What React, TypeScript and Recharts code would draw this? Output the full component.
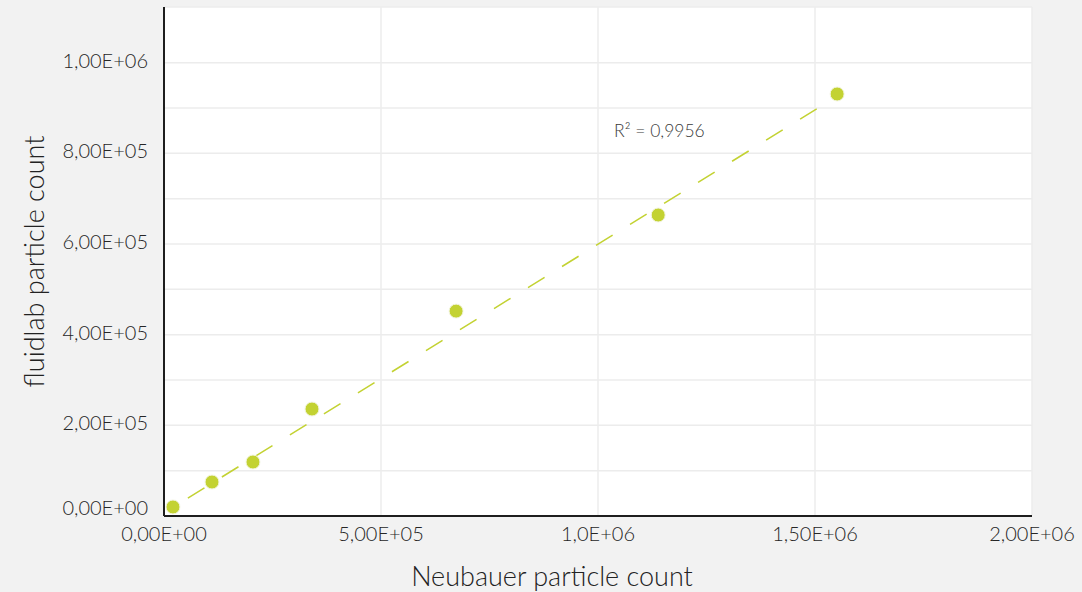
import React from "react";
import {
  ScatterChart,
  Scatter,
  XAxis,
  YAxis,
  CartesianGrid,
  ReferenceLine,
  ReferenceDot,
  Label,
} from "recharts";

const neubauer = [20700, 110600, 205000, 341000, 673000, 1138700, 1551000];
const fluidlab = [19900, 75000, 119100, 236000, 452000, 664000, 931000];

const xTicks = [0, 500000, 1000000, 1500000, 2000000];
const xTickLabels = ["0,00E+00", "5,00E+05", "1,0E+06", "1,50E+06", "2,00E+06"];

const yTicks = [0, 100000, 200000, 300000, 400000, 500000, 600000, 700000, 800000, 900000, 1000000];
const yTickLabels = ["0,00E+00", "", "2,00E+05", "", "4,00E+05", "", "6,00E+05", "", "8,00E+05", "", "1,00E+06"];

const trendStart = { x: 55000, y: 39600 };
const trendEnd = { x: 1551000, y: 926000 };
const r2Label = "R² = 0,9956";
const r2Pos = { x: 1037000, y: 849000 };

const data = neubauer.map((x, i) => ({ x, y: fluidlab[i] }));

const FONT = "Lato, 'Open Sans', sans-serif";
const GREEN = "#c3d232";

const XTick = (props: any) => {
  const { x, y, payload } = props;
  const i = xTicks.indexOf(payload.value);
  return (
    <text x={x} y={y + 3} dy="0.71em" textAnchor="middle" fontFamily={FONT} fontWeight={300} fontSize={20} fill="#262626">
      {xTickLabels[i]}
    </text>
  );
};

const YTick = (props: any) => {
  const { x, y, payload } = props;
  const i = yTicks.indexOf(payload.value);
  const label = yTickLabels[i];
  if (!label) return <g />;
  return (
    <text x={x - 8} y={payload.value === 0 ? y - 8 : y - 2} dy="0.35em" textAnchor="end" fontFamily={FONT} fontWeight={300} fontSize={20} fill="#262626">
      {label}
    </text>
  );
};

const Dot = (props: any) => {
  const { cx, cy } = props;
  return <circle cx={cx} cy={cy} r={7} fill={GREEN} stroke="#f4f6e4" strokeWidth={1} />;
};

export default function App() {
  return (
    <div style={{ position: "absolute", left: 0, top: 0, width: 1082, height: 592, background: "#f2f2f2", overflow: "hidden" }}>
      <ScatterChart width={1082} height={592} margin={{ top: 7, right: 50, bottom: 0, left: 0 }}>
        <CartesianGrid fill="#ffffff" stroke="#ececec" strokeWidth={1.5} />
        <XAxis
          type="number"
          dataKey="x"
          domain={[0, 2000000]}
          ticks={xTicks}
          tick={<XTick />}
          tickLine={false}
          axisLine={{ stroke: "#1e1e1e", strokeWidth: 2 }}
          height={76}
          interval={0}
        >
          <Label
            content={(p: any) => {
              const vb = p.viewBox;
              return (
                <text x={vb.x + vb.width / 2 - 46} y={586} textAnchor="middle" fontFamily={FONT} fontWeight={300} fontSize={27} fill="#222222">
                  Neubauer particle count
                </text>
              );
            }}
          />
        </XAxis>
        <YAxis
          type="number"
          dataKey="y"
          domain={[0, 1122900]}
          ticks={yTicks}
          tick={<YTick />}
          tickLine={false}
          axisLine={{ stroke: "#1e1e1e", strokeWidth: 2 }}
          width={164}
          interval={0}
          allowDataOverflow
        >
          <Label
            content={(p: any) => {
              const vb = p.viewBox;
              const cy = vb.y + vb.height / 2;
              return (
                <text x={33} y={cy} transform={`rotate(-90 33 ${cy})`} textAnchor="middle" dominantBaseline="central" fontFamily={FONT} fontWeight={300} fontSize={27} fill="#222222">
                  fluidlab particle count
                </text>
              );
            }}
          />
        </YAxis>
        <ReferenceLine
          segment={[trendStart, trendEnd]}
          stroke={GREEN}
          strokeWidth={1.5}
          strokeDasharray="19.5 20.5"
          ifOverflow="visible"
        />
        <ReferenceDot
          x={r2Pos.x}
          y={r2Pos.y}
          r={0}
          ifOverflow="visible"
          shape={(p: any) => (
            <text x={p.cx} y={p.cy} dy="0.35em" textAnchor="start" fontFamily={FONT} fontWeight={300} fontSize={17.5} fill="#3a3a3a">
              {r2Label}
            </text>
          )}
        />
        <Scatter data={data} shape={<Dot />} isAnimationActive={false} />
      </ScatterChart>
    </div>
  );
}
